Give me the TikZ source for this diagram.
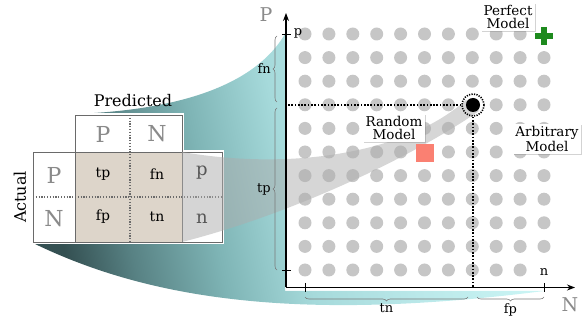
\documentclass[tikz,border=0pt]{standalone}
\usepackage{fontspec}
\setmainfont{DejaVu Serif}
\usetikzlibrary{arrows.meta,decorations.pathreplacing,shadows}
\definecolor{cellbeige}{HTML}{DDD5CA}
\definecolor{dotgray}{HTML}{C6C6C6}
\definecolor{bandgray}{HTML}{ADADAD}
\definecolor{salmonred}{HTML}{FA8072}
\definecolor{crossgreen}{HTML}{1E8A1E}
\definecolor{headgray}{HTML}{8A8A8A}
\definecolor{framegray}{HTML}{6A6A6A}
\definecolor{bracegray}{HTML}{7A7A7A}
\pgfdeclarehorizontalshading{funnelshade}{100bp}{
  color(0bp)=(rgb,255:red,52;green,80;blue,82);
  color(25bp)=(rgb,255:red,52;green,80;blue,82);
  color(32bp)=(rgb,255:red,88;green,130;blue,132);
  color(41bp)=(rgb,255:red,126;green,180;blue,181);
  color(50bp)=(rgb,255:red,166;green,218;blue,219);
  color(61bp)=(rgb,255:red,186;green,232;blue,233);
  color(75bp)=(rgb,255:red,204;green,246;blue,246);
  color(100bp)=(rgb,255:red,204;green,246;blue,246)}

\tikzset{
  modelbox/.style={fill=white, inner sep=2.5pt, align=center,
    font=\fontsize{13.5}{13}\selectfont,
    drop shadow={shadow xshift=1pt, shadow yshift=-1pt, opacity=0.35}},
  cellframe/.style={draw=framegray, line width=0.8pt},
  celldiv/.style={draw=framegray, line width=1.2pt, dash pattern=on 1.2pt off 1.6pt},
  guide/.style={draw=black, line width=1.7pt, dash pattern=on 1.7pt off 1.6pt},
  axisline/.style={draw=black, line width=1.2pt},
  bracepart/.style={draw=bracegray, line width=0.6pt, decorate,
    decoration={brace, amplitude=4pt}},
  bracelabel/.style={font=\fontsize{13}{13}\selectfont, inner sep=1pt},
  headlabel/.style={text=headgray, font=\fontsize{22}{22}\selectfont},
  celllabel/.style={font=\fontsize{14}{14}\selectfont},
  sumlabel/.style={font=\fontsize{18}{18}\selectfont},
  gridpoint/.style={circle, fill=dotgray, inner sep=0pt, minimum size=13pt}
}

\begin{document}
\begin{tikzpicture}[x=1pt, y=-1pt]
\useasboundingbox (0,0) rectangle (587,323);

% funnel from the table to the plot
\shade[shading=funnelshade, shading angle=12]
  (75,114) .. controls (180,110) and (255,85) .. (285,34) -- (285,291) -- (544,291)
  .. controls (300,322) and (150,300) .. (33,243) -- (33,152) -- (75,152) -- cycle;

% confusion table
\draw[white, line width=4pt] (33,152) rectangle (222,242);
\draw[white, line width=4pt] (75,115) rectangle (182,152);
\fill[white] (33,152) rectangle (75,242);
\fill[cellbeige] (75,152) rectangle (182,242);
\fill[white] (182,152) rectangle (222,242);
\fill[white] (75,115) rectangle (182,152);
\draw[cellframe] (33,152) rectangle (222,242);
\draw[cellframe] (75,115) rectangle (182,152);
\draw[cellframe] (75,152) -- (75,242);
\draw[cellframe] (182,152) -- (182,242);
\draw[celldiv] (130,115) -- (130,242);
\draw[celldiv] (33,197) -- (222,197);

\node[font=\fontsize{16}{16}\selectfont] (predicted) at (133,101) {Predicted};
\node[font=\fontsize{16}{16}\selectfont, rotate=90] (actual) at (20,197) {Actual};
\node[headlabel] (colP) at (103,134) {P};
\node[headlabel] (colN) at (157,134) {N};
\node[headlabel] (rowP) at (54,175) {P};
\node[headlabel] (rowN) at (54,219) {N};
\node[celllabel] (tp) at (103,174) {tp};
\node[celllabel] (fn) at (157,174) {fn};
\node[celllabel] (fp) at (103,217) {fp};
\node[celllabel] (tn) at (157,217) {tn};
\node[sumlabel] (sumP) at (202,173) {p};
\node[sumlabel] (sumN) at (202,219) {n};

% grid of possible classifiers
\foreach \i in {0,...,10} {
  \foreach \j in {0,...,10} {
    \ifnum\i=10 \ifnum\j=0 \else\ifnum\j=10 \else
      \node[gridpoint] (g\i-\j) at ({305+23.9*\i},{34+23.6*\j}) {};
    \fi\fi
    \else
      \node[gridpoint] (g\i-\j) at ({305+23.9*\i},{34+23.6*\j}) {};
    \fi
  }
}

% band from the table to the chosen point
\fill[bandgray, opacity=0.5]
  (182,152) .. controls (300,172) and (410,150) .. (466,100) -- (479,111)
  .. controls (420,152) and (300,212) .. (182,242) -- cycle;

% chosen point and its guides
\node[circle, fill=black, inner sep=0pt, minimum size=14pt] (point) at (473,105) {};
\node[circle, draw=black, line width=1.6pt, dash pattern=on 1.2pt off 1.3pt,
  inner sep=0pt, minimum size=22pt] (ring) at (473,105) {};
\coordinate (yhit) at (287,105);
\coordinate (xhit) at (473,287);
\draw[guide] (ring.west) -- (yhit);
\draw[guide] (ring.south) -- (xhit);

\node[fill=salmonred, inner sep=0pt, minimum size=18pt] (random) at (425,153) {};
\draw[crossgreen, line width=6pt] (535,36) -- (553,36);
\draw[crossgreen, line width=6pt] (544,27) -- (544,45);

\node[modelbox] (perfect) at (508,17) {Perfect\\Model};
\node[modelbox] (randlabel) at (394,128) {Random\\Model};
\node[modelbox] (arbitrary) at (547,139) {Arbitrary\\Model};

% axes
\coordinate (origin) at (286,287.5);
\coordinate (ytop) at (286,13);
\coordinate (xend) at (575,287.5);
\draw[axisline, -{Stealth[length=8pt, width=6pt]}] (origin) -- (ytop);
\draw[axisline, -{Stealth[length=8pt, width=6pt]}] (origin) -- (xend);
\draw[axisline, line width=0.9pt] (282,34) -- (291,34);
\draw[axisline, line width=0.9pt] (282,270) -- (291,270);
\draw[axisline, line width=0.9pt] (305,283) -- (305,292);
\draw[axisline, line width=0.9pt] (544,283) -- (544,292);
\node[font=\fontsize{19}{19}\selectfont, text=headgray] (axisP) at (266,15) {P};
\node[font=\fontsize{19}{19}\selectfont, text=headgray] (axisN) at (570,305) {N};
\node[bracelabel] (tickp) at (298,33) {p};
\node[bracelabel] (tickn) at (544,272) {n};

% braces
\draw[bracepart] (277,102) -- (277,36) node[midway, bracelabel, left=5pt] (bfn) {fn};
\draw[bracepart] (277,270) -- (277,108) node[midway, bracelabel, left=5pt] (btp) {tp};
\draw[bracepart] (468,297) -- (305,297) node[midway, bracelabel, below=5pt] (btn) {tn};
\draw[bracepart] (544,297) -- (477,297) node[midway, bracelabel, below=5pt] (bfp) {fp};
\end{tikzpicture}
\end{document}
